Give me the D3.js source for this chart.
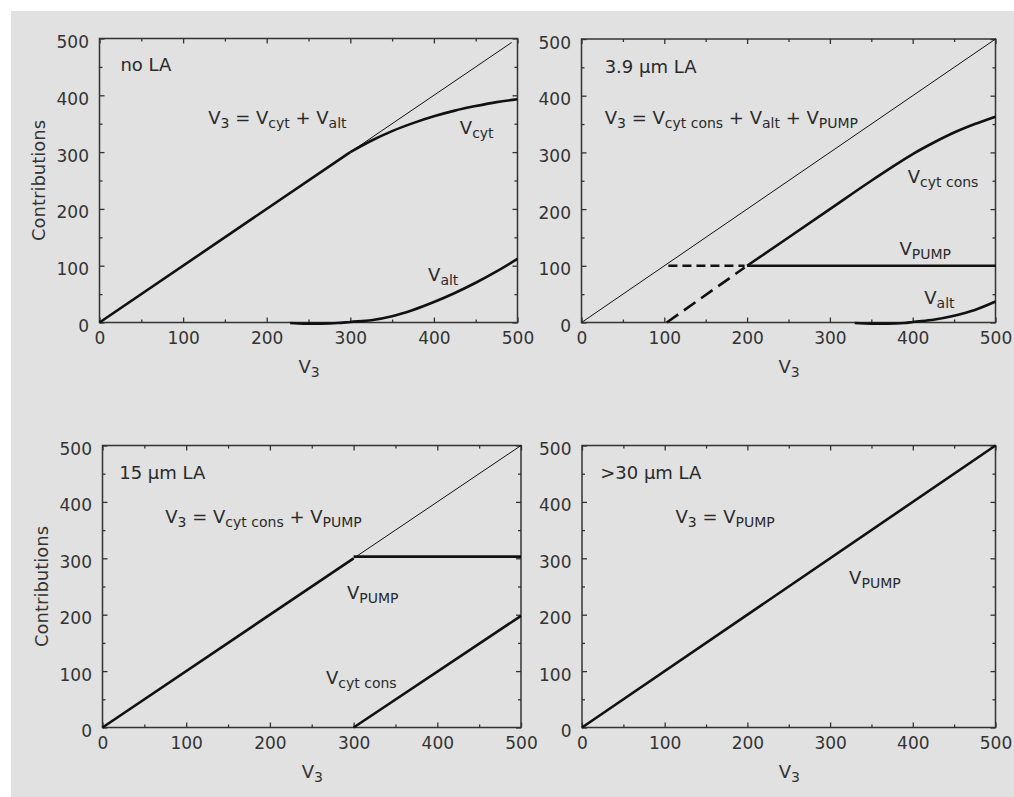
<!DOCTYPE html>
<html><head><meta charset="utf-8">
<script src="https://cdn.jsdelivr.net/npm/d3@7"></script>
<style>
body{margin:0;background:#fff;}
svg{display:block;}
text{font-family:"DejaVu Sans",sans-serif;}
</style></head>
<body>
<svg id="c" width="1014" height="797"></svg>
<script>
// ---------- data ----------
const xTickValues = [0, 100, 200, 300, 400, 500];
const yTickValues = [0, 100, 200, 300, 400, 500];
const minorTickValues = [50, 150, 250, 350, 450];
const panelTitles = ["no LA", "3.9 µm LA", "15 µm LA", ">30 µm LA"];
const equations = [
  "V_{3} = V_{cyt} + V_{alt}",
  "V_{3} = V_{cyt cons} + V_{alt} + V_{PUMP}",
  "V_{3} = V_{cyt cons} + V_{PUMP}",
  "V_{3} = V_{PUMP}"
];
const xTitle = "V_{3}";
const yTitle = "Contributions";

// panel 1 (no LA)
const p1Total = [[300, 300], [493, 493]];
const p1VcytLinear = [[0, 0], [300, 300]];
const p1Vcyt = [[300, 300], [325, 320], [350, 337], [375, 351], [400, 363], [425, 373], [450, 381], [475, 388], [500, 393]];
const p1Valt = [[228, -1], [245, -2], [265, -2], [285, -1], [300, 1], [325, 4], [350, 11], [375, 22], [400, 36], [425, 52], [450, 70], [475, 90], [500, 112]];
// panel 2 (3.9 µm LA)
const p2Total = [[0, 0], [500, 500]];
const p2VcytDashed = [[103, 0], [197, 97]];
const p2PumpDashed = [[105, 100], [197, 100]];
const p2Vcyt = [[200, 100], [250, 150], [300, 200], [350, 250], [375, 274], [400, 297], [425, 317], [450, 335], [475, 350], [500, 363]];
const p2Vpump = [[200, 100], [500, 100]];
const p2Valt = [[330, -1], [350, -2], [370, -2], [390, -1], [400, 1], [425, 5], [450, 12], [475, 22], [500, 37]];
// panel 3 (15 µm LA)
const p3Total = [[300, 300], [500, 500]];
const p3V3 = [[0, 0], [300, 300]];
const p3Vpump = [[300, 303], [500, 303]];
const p3Vcyt = [[300, 0], [500, 198]];
// panel 4 (>30 µm LA)
const p4Vpump = [[0, 0], [500, 500]];

// curve labels [text, x, y] in data units
const p1Labels = [["V_{cyt}", 431, 332], ["V_{alt}", 393, 73]];
const p2Labels = [["V_{cyt cons}", 394, 246], ["V_{PUMP}", 384, 119], ["V_{alt}", 414, 33]];
const p3Labels = [["V_{PUMP}", 292, 228], ["V_{cyt cons}", 267, 78]];
const p4Labels = [["V_{PUMP}", 323, 254]];

// ---------- layout ----------
const panels = [
  {l: 99.5, r: 517.5, t: 38.5, b: 322.5, yTitle: true,
   title: [25, 442], eq: [130, 349],
   thin: [p1Total], thick: [p1VcytLinear, p1Vcyt, p1Valt], dashed: [], labels: p1Labels},
  {l: 581.5, r: 995.5, t: 39, b: 322.5, yTitle: false,
   title: [28, 440], eq: [28, 350],
   thin: [p2Total], thick: [p2Vcyt, p2Vpump, p2Valt], dashed: [[p2VcytDashed, "14,7"], [p2PumpDashed, "9,5"]], labels: p2Labels},
  {l: 102.5, r: 521, t: 445.5, b: 727.5, yTitle: true,
   title: [20, 440], eq: [75, 362],
   thin: [p3Total], thick: [p3V3, p3Vpump, p3Vcyt], dashed: [], labels: p3Labels},
  {l: 582, r: 995.5, t: 445.5, b: 727.5, yTitle: false,
   title: [22, 441], eq: [113, 363],
   thin: [], thick: [p4Vpump], dashed: [], labels: p4Labels}
];

const svg = d3.select("#c");
svg.append("rect").attr("x", 11).attr("y", 11).attr("width", 1003).attr("height", 786).attr("fill", "#e1e1e1");

const MAIN = 18, SUB = 14, SHIFT = 4;
function richText(sel, str, size, subSize) {
  const re = /_\{([^}]*)\}/g;
  let last = 0, m, down = false;
  const parts = [];
  while ((m = re.exec(str)) !== null) {
    if (m.index > last) parts.push([str.slice(last, m.index), false]);
    parts.push([m[1], true]);
    last = re.lastIndex;
  }
  if (last < str.length) parts.push([str.slice(last), false]);
  parts.forEach(([t, sub]) => {
    const ts = sel.append("tspan").text(t).attr("font-size", sub ? subSize : size);
    if (sub && !down) { ts.attr("dy", SHIFT); down = true; }
    else if (!sub && down) { ts.attr("dy", -SHIFT); down = false; }
  });
  sel.style("white-space", "pre").attr("xml:space", "preserve");
}

panels.forEach((p, i) => {
  const x = d3.scaleLinear().domain([0, 500]).range([p.l, p.r]);
  const y = d3.scaleLinear().domain([0, 500]).range([p.b, p.t]);
  const g = svg.append("g");
  const line = d3.line().x(d => x(d[0])).y(d => y(d[1])).curve(d3.curveMonotoneX);

  // axes (ticks inward)
  const ax = [
    [d3.axisBottom(x), `translate(0,${p.b})`, true],
    [d3.axisTop(x), `translate(0,${p.t})`, false],
  ];
  ax.forEach(([a, tr, lab]) => {
    const gg = g.append("g").attr("transform", tr)
      .call(a.tickValues(xTickValues).tickSize(-5).tickSizeOuter(0).tickPadding(9.5)
        .tickFormat(lab ? d3.format("d") : () => ""));
    gg.select(".domain").remove();
    gg.append("g").call((lab ? d3.axisBottom(x) : d3.axisTop(x)).tickValues(minorTickValues).tickSize(-3).tickFormat(() => ""))
      .select(".domain").remove();
  });
  const ay = [
    [d3.axisLeft(y), `translate(${p.l},0)`, true],
    [d3.axisRight(y), `translate(${p.r},0)`, false],
  ];
  ay.forEach(([a, tr, lab]) => {
    const gg = g.append("g").attr("transform", tr)
      .call(a.tickValues(yTickValues).tickSize(-5).tickSizeOuter(0).tickPadding(10.5)
        .tickFormat(lab ? d3.format("d") : () => ""));
    gg.select(".domain").remove();
    gg.selectAll("text").attr("dy", null).attr("y", 9);
    gg.append("g").call((lab ? d3.axisLeft(y) : d3.axisRight(y)).tickValues(minorTickValues).tickSize(-3).tickFormat(() => ""))
      .select(".domain").remove();
  });
  g.selectAll(".tick line").attr("stroke", "#333").attr("stroke-width", 1.3);
  g.selectAll(".tick text").attr("fill", "#333").attr("font-size", 17).attr("font-family", "DejaVu Sans");

  g.append("rect").attr("x", p.l).attr("y", p.t).attr("width", p.r - p.l).attr("height", p.b - p.t)
    .attr("fill", "none").attr("stroke", "#333").attr("stroke-width", 1.5);

  // series
  p.thin.forEach(d => g.append("path").attr("d", line(d)).attr("fill", "none").attr("stroke", "#111").attr("stroke-width", 1));
  p.thick.forEach(d => g.append("path").attr("d", line(d)).attr("fill", "none").attr("stroke", "#111").attr("stroke-width", 2.6));
  p.dashed.forEach(([d, dash]) => g.append("path").attr("d", line(d)).attr("fill", "none").attr("stroke", "#111")
    .attr("stroke-width", 2.6).attr("stroke-dasharray", dash));

  // texts
  g.append("text").attr("x", x(p.title[0])).attr("y", y(p.title[1])).attr("fill", "#2a2a2a").attr("font-size", MAIN).text(panelTitles[i]);
  richText(g.append("text").attr("x", x(p.eq[0])).attr("y", y(p.eq[1])).attr("fill", "#2a2a2a"), equations[i], MAIN, SUB);
  p.labels.forEach(([t, lx, ly]) => {
    richText(g.append("text").attr("x", x(lx)).attr("y", y(ly)).attr("fill", "#2a2a2a"), t, MAIN, SUB);
  });

  // axis titles
  richText(g.append("text").attr("x", (p.l + p.r) / 2 - 10).attr("y", p.b + 50).attr("fill", "#333"), xTitle, MAIN, SUB);
  if (p.yTitle) {
    g.append("text").attr("transform", `translate(${p.l - 55},${(p.t + p.b) / 2}) rotate(-90)`)
      .attr("text-anchor", "middle").attr("fill", "#333").attr("font-size", MAIN).text(yTitle);
  }
});
</script>
</body></html>
